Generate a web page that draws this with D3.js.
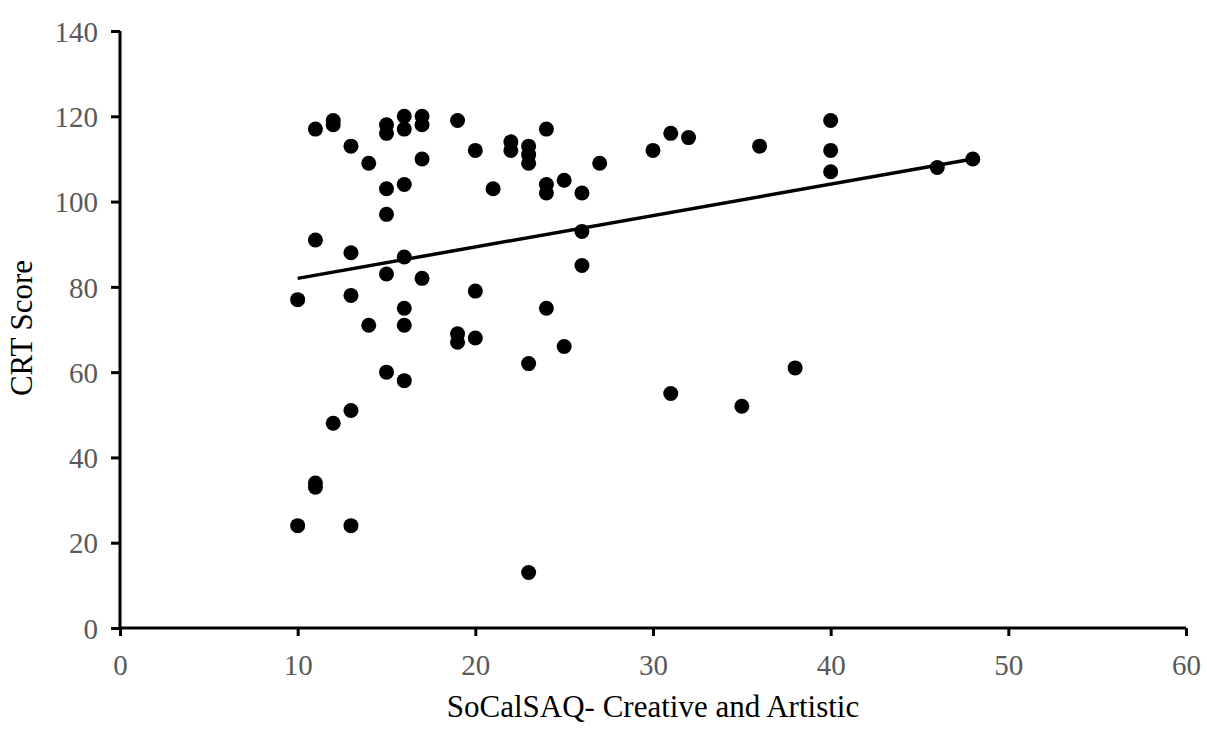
<!DOCTYPE html>
<meta charset="utf-8">
<html>
<head>
<style>
body { margin: 0; background: #fff; }
.tick text { font-family: "Liberation Serif", "Times New Roman", serif; font-size: 29px; fill: #595959; }
.title { font-family: "Liberation Serif", "Times New Roman", serif; font-size: 31px; fill: #000; }
</style>
</head>
<body>
<svg width="1207" height="731"></svg>
<script src="https://cdn.jsdelivr.net/npm/d3@7"></script>
<script>

// SoCalSAQ Creative and Artistic score vs CRT score
var socal = [10,10, 11,11,11,11, 12,12,12, 13,13,13,13,13, 14,14,
  15,15,15,15,15,15, 16,16,16,16,16,16,16, 17,17,17,17, 19,19,19,
  20,20,20, 21, 22,22, 23,23,23,23,23, 24,24,24,24, 25,25, 26,26,26,
  27, 30, 31,31, 32, 35, 36, 38, 40,40,40, 46, 48];
var crt = [77,24, 117,91,34,33, 119,118,48, 113,88,78,51,24, 109,71,
  118,116,103,97,83,60, 120,117,104,87,75,71,58, 120,118,110,82, 119,69,67,
  112,79,68, 103, 114,112, 113,111,109,62,13, 117,104,102,75, 105,66, 102,93,85,
  109, 112, 116,55, 115, 52, 113, 61, 119,112,107, 108, 110];

var xTicks = [0,10,20,30,40,50,60];
var yTicks = [0,20,40,60,80,100,120,140];

var svg = d3.select("svg");
var x = d3.scaleLinear().domain([0,60]).range([120,1186]);
var y = d3.scaleLinear().domain([0,140]).range([628,31]);

var xAxis = svg.append("g")
    .attr("transform","translate(0,628)")
    .call(d3.axisBottom(x).tickValues(xTicks).tickSize(8).tickPadding(16));
var yAxis = svg.append("g")
    .attr("transform","translate(120,0)")
    .call(d3.axisLeft(y).tickValues(yTicks).tickSize(9).tickPadding(13));

[xAxis, yAxis].forEach(function(a){
  a.select(".domain").attr("stroke","#000").attr("stroke-width",3);
  a.selectAll(".tick line").attr("stroke","#000").attr("stroke-width",3);
  a.selectAll(".tick text").attr("font-family",null).attr("font-size",null);
});
xAxis.select(".domain").attr("d","M" + x(0) + ",0H" + x(60));
yAxis.select(".domain").attr("d","M0," + y(140) + "V" + y(0));
xAxis.selectAll(".tick text").attr("dy","0.8em");
yAxis.selectAll(".tick text").attr("dy","0.35em");

// least squares trend line
var mx = d3.mean(socal), my = d3.mean(crt);
var sxy = d3.sum(socal, function(v,i){ return (v-mx)*(crt[i]-my); });
var sxx = d3.sum(socal, function(v){ return (v-mx)*(v-mx); });
var slope = sxy/sxx, icpt = my - slope*mx;
var xr = d3.extent(socal);

svg.selectAll(".dot")
    .data(socal)
  .enter().append("circle")
    .attr("class","dot")
    .attr("cx", function(d){ return x(d); })
    .attr("cy", function(d,i){ return y(crt[i]); })
    .attr("r", 7.5)
    .attr("fill","#000");

svg.append("line")
    .attr("x1", x(xr[0])).attr("y1", y(icpt + slope*xr[0]))
    .attr("x2", x(xr[1])).attr("y2", y(icpt + slope*xr[1]))
    .attr("stroke","#000").attr("stroke-width",3.5);

svg.append("text").attr("class","title")
    .attr("x", 653).attr("y", 717)
    .attr("text-anchor","middle")
    .text("SoCalSAQ- Creative and Artistic");

svg.append("text").attr("class","title")
    .attr("transform","translate(32,328) rotate(-90)")
    .attr("text-anchor","middle")
    .text("CRT Score");

</script>
</body>
</html>
